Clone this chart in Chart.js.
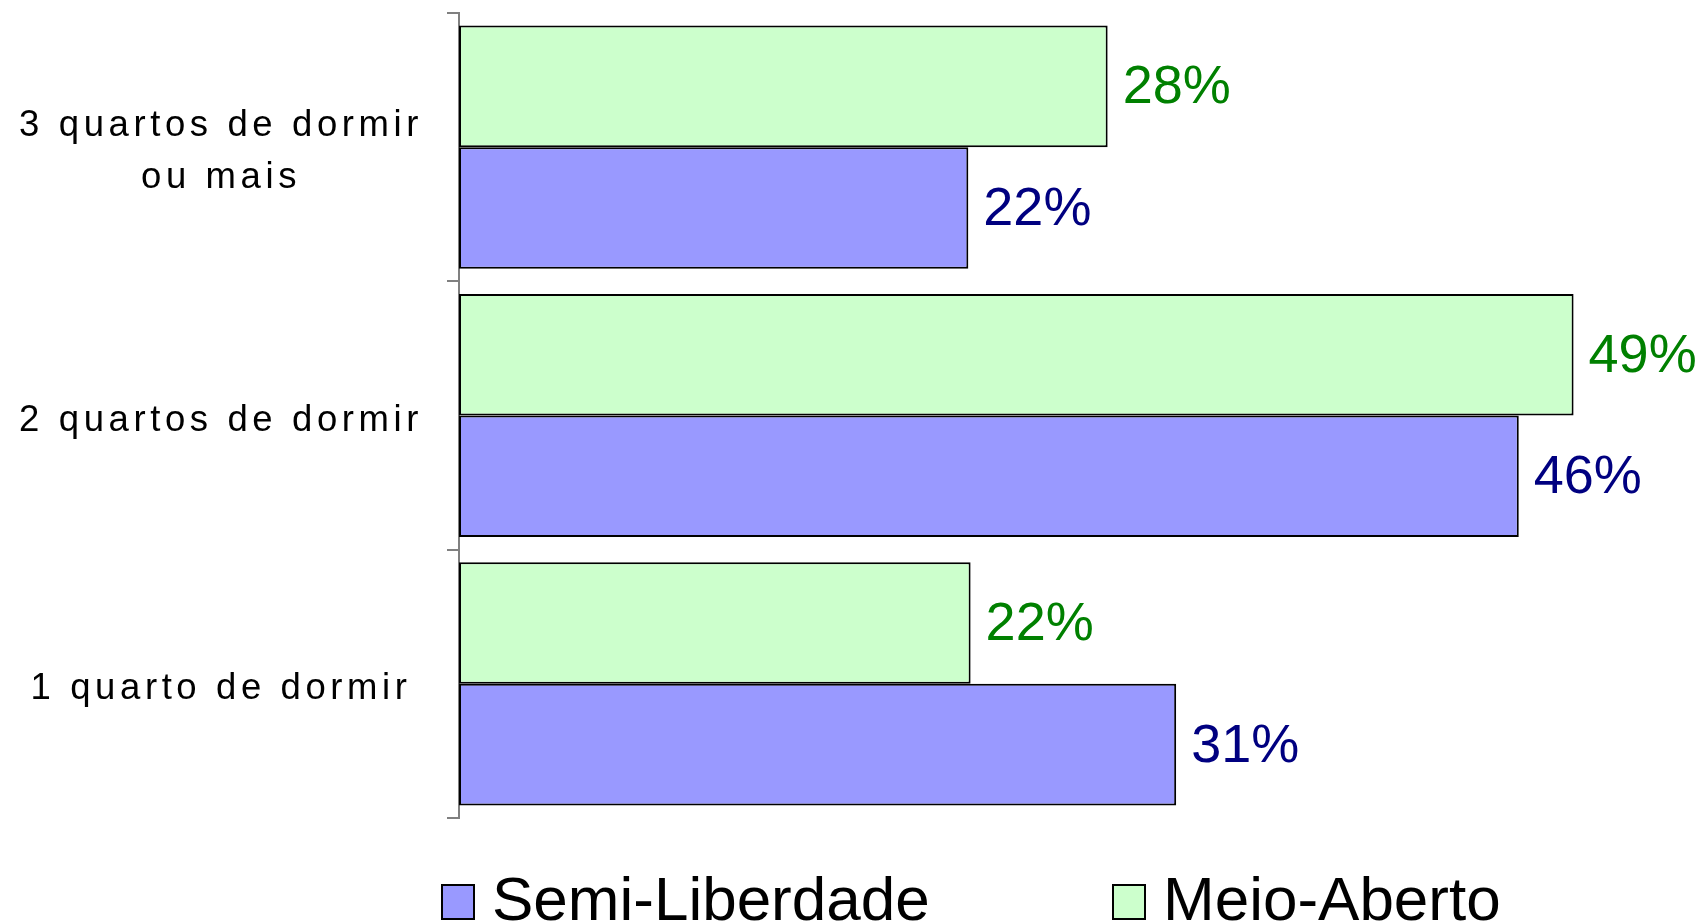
<!DOCTYPE html>
<html>
<head>
<meta charset="utf-8">
<script src="https://cdn.jsdelivr.net/npm/chart.js@4.4.1/dist/chart.umd.min.js"></script>
<style>
html,body{margin:0;padding:0;background:#ffffff;}
#wrap{width:1698px;height:923px;position:relative;}
</style>
</head>
<body>
<div id="wrap"><canvas id="c" width="1698" height="923"></canvas></div>
<script>
// ---- data ----
const categories = [["3 quartos de dormir", "ou mais"], "2 quartos de dormir", "1 quarto de dormir"];
const seriesNames = ["Meio-Aberto", "Semi-Liberdade"];
const meioAberto = [28.4, 48.8, 22.4];
const semiLiberdade = [22.3, 46.4, 31.4];
const legendOrder = ["Semi-Liberdade", "Meio-Aberto"];

const FONT = "'Liberation Sans', Arial, sans-serif";
const TICK_SPACING = '4.6px';

const letterSpacingPlugin = {
  id: 'letterSpacing',
  beforeLayout(chart) { chart.ctx.letterSpacing = TICK_SPACING; },
  afterLayout(chart) { chart.ctx.letterSpacing = '0px'; },
  beforeDraw(chart) { chart.ctx.letterSpacing = TICK_SPACING; },
  beforeDatasetsDraw(chart) { chart.ctx.letterSpacing = '0px'; }
};

const valueLabelPlugin = {
  id: 'valueLabels',
  afterDatasetsDraw(chart) {
    const ctx = chart.ctx;
    ctx.save();
    ctx.letterSpacing = '0px';
    ctx.font = '54px ' + FONT;
    ctx.textAlign = 'left';
    ctx.textBaseline = 'middle';
    chart.data.datasets.forEach((ds, di) => {
      const meta = chart.getDatasetMeta(di);
      meta.data.forEach((el, i) => {
        ctx.fillStyle = ds.labelColor;
        ctx.fillText(Math.round(ds.data[i]) + '%', el.x + 15, el.y + 2);
      });
    });
    ctx.restore();
  }
};

const customLegendPlugin = {
  id: 'customLegend',
  afterDraw(chart) {
    const ctx = chart.ctx;
    const xs = [442, 1113];
    ctx.save();
    ctx.letterSpacing = '0px';
    ctx.font = '62px ' + FONT;
    ctx.textAlign = 'left';
    ctx.textBaseline = 'middle';
    legendOrder.forEach((name, k) => {
      const ds = chart.data.datasets.find(d => d.label === name);
      const x = xs[k];
      ctx.fillStyle = ds.backgroundColor;
      ctx.fillRect(x, 885, 32, 34);
      ctx.lineWidth = 2;
      ctx.strokeStyle = '#000000';
      ctx.strokeRect(x, 885, 32, 34);
      ctx.fillStyle = '#000000';
      ctx.fillText(name, x + 50, 903);
    });
    ctx.restore();
  }
};

new Chart(document.getElementById('c'), {
  type: 'bar',
  data: {
    labels: categories,
    datasets: [
      {
        label: seriesNames[0],
        data: meioAberto,
        backgroundColor: '#CCFFCC',
        borderColor: '#000000',
        borderWidth: 2,
        borderSkipped: false,
        labelColor: '#008000',
        barPercentage: 1,
        categoryPercentage: 0.906
      },
      {
        label: seriesNames[1],
        data: semiLiberdade,
        backgroundColor: '#9999FF',
        borderColor: '#000000',
        borderWidth: 2,
        borderSkipped: false,
        labelColor: '#000080',
        barPercentage: 1,
        categoryPercentage: 0.906
      }
    ]
  },
  options: {
    indexAxis: 'y',
    responsive: false,
    devicePixelRatio: 1,
    animation: false,
    layout: { padding: { top: 13, bottom: 105, left: 0, right: 97 } },
    scales: {
      x: { display: false, min: 0, max: 50 },
      y: {
        position: 'left',
        afterFit(scale) {
          scale.width = 459;
          scale.paddingTop = 0;
          scale.paddingBottom = 0;
        },
        grid: {
          offset: true,
          drawOnChartArea: false,
          drawTicks: true,
          tickLength: 12,
          color: '#808080',
          lineWidth: 2
        },
        border: { display: true, color: '#808080', width: 2 },
        ticks: {
          crossAlign: 'center',
          padding: 24,
          labelOffset: 5,
          color: '#000000',
          font: { family: FONT, size: 36.5, lineHeight: 1.42 }
        }
      }
    },
    plugins: {
      legend: { display: false },
      tooltip: { enabled: false }
    }
  },
  plugins: [letterSpacingPlugin, valueLabelPlugin, customLegendPlugin]
});
</script>
</body>
</html>
